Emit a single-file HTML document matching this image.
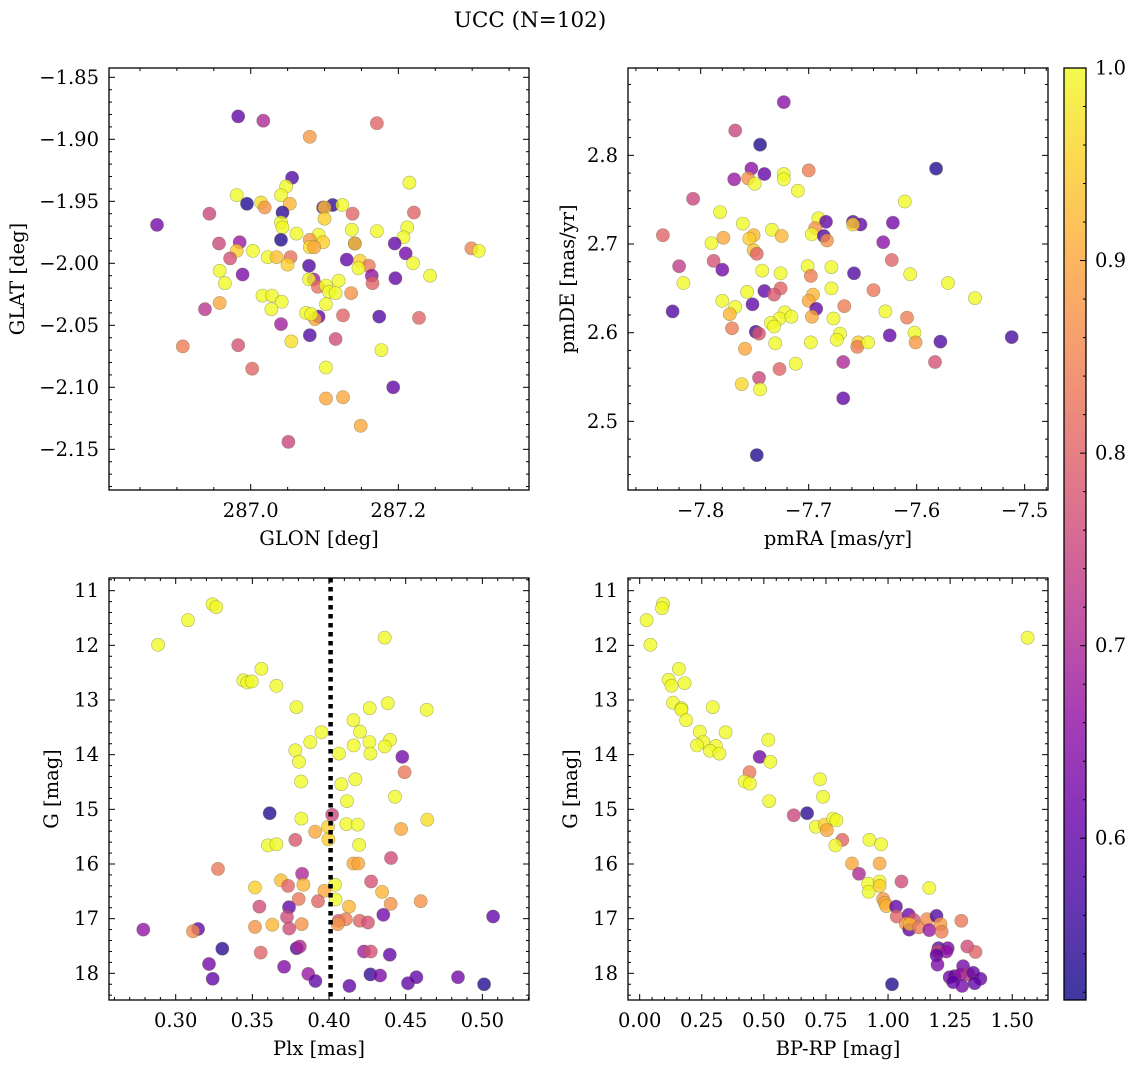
<!DOCTYPE html>
<html><head><meta charset="utf-8"><style>
html,body{margin:0;padding:0;background:#fff;}
svg{display:block;font-family:"DejaVu Serif","Liberation Serif",serif;}
</style></head><body>
<svg id="fig" width="1136" height="1067" viewBox="0 0 1136 1067" xmlns="http://www.w3.org/2000/svg">
<defs>
<linearGradient id="plasma" x1="0" y1="1" x2="0" y2="0">
<stop offset="0" stop-color="#0d0887"/><stop offset="0.1" stop-color="#41049d"/><stop offset="0.2" stop-color="#6a00a8"/><stop offset="0.3" stop-color="#8f0da4"/><stop offset="0.4" stop-color="#b12a90"/><stop offset="0.5" stop-color="#cc4778"/><stop offset="0.6" stop-color="#e16462"/><stop offset="0.7" stop-color="#f2844b"/><stop offset="0.8" stop-color="#fca636"/><stop offset="0.9" stop-color="#fcce25"/><stop offset="1" stop-color="#f0f921"/>
</linearGradient>
</defs>
<text x="530" y="27" font-size="21.5" text-anchor="middle">UCC (N=102)</text>
</svg>
<script>
// ---- Panel 1: GLON / GLAT ----
const p1Glon=[286.983,287.017,287.171,287.080,287.056,287.215,287.048,286.981,287.041,286.995,287.014,287.019,287.053,287.043,287.098,287.111,287.100,287.124,287.100,287.138,287.221,286.944,286.873,287.041,287.043,287.137,287.171,287.212,287.207,287.062,287.092,287.080,287.098,287.041,287.141,287.141,287.195,286.957,286.985,286.981,287.003,287.080,287.086,287.210,287.299,287.309,286.972,287.023,287.035,287.054,287.050,287.130,287.148,287.160,287.146,287.079,287.220,286.958,286.989,286.965,287.085,287.079,287.091,287.102,287.119,287.106,287.115,287.164,287.165,287.196,287.243,287.136,287.016,287.029,287.042,287.028,286.958,286.938,287.102,287.075,287.092,287.087,287.082,287.125,287.174,287.228,287.041,287.080,287.115,287.055,287.177,286.908,286.983,287.002,287.102,287.193,287.102,287.125,287.149,287.051];
const p1Glat=[-1.8815,-1.885,-1.887,-1.898,-1.931,-1.935,-1.938,-1.945,-1.945,-1.952,-1.951,-1.955,-1.952,-1.959,-1.955,-1.953,-1.955,-1.953,-1.964,-1.960,-1.959,-1.960,-1.969,-1.967,-1.971,-1.973,-1.974,-1.971,-1.979,-1.976,-1.977,-1.981,-1.983,-1.981,-1.984,-1.984,-1.984,-1.984,-1.983,-1.990,-1.990,-1.987,-1.987,-1.992,-1.988,-1.990,-1.996,-1.995,-1.995,-1.995,-2.001,-1.997,-1.998,-2.002,-2.004,-2.002,-2.000,-2.006,-2.009,-2.016,-2.013,-2.013,-2.019,-2.018,-2.014,-2.023,-2.024,-2.010,-2.016,-2.012,-2.010,-2.024,-2.026,-2.026,-2.031,-2.037,-2.032,-2.037,-2.033,-2.040,-2.043,-2.045,-2.041,-2.042,-2.043,-2.044,-2.049,-2.058,-2.061,-2.063,-2.070,-2.067,-2.066,-2.085,-2.084,-2.100,-2.109,-2.108,-2.131,-2.144];
const p1Prob=[0.6,0.7,0.8,0.88,0.58,1,1,1,1,0.53,0.97,0.87,0.92,0.54,0.6,0.55,0.93,1,0.95,0.8,0.8,0.75,0.62,1,1,1,1,1,1,1,1,0.88,0.95,0.53,0.6,0.95,0.6,0.75,0.67,0.95,1,0.97,0.9,0.62,0.85,1,0.77,1,0.93,0.82,0.95,0.6,0.95,0.83,1,0.58,1,1,0.63,1,0.68,1,0.82,1,1,1,1,0.66,0.8,0.6,1,0.87,1,1,1,1,0.9,0.72,1,1,0.6,0.9,1,0.8,0.58,0.8,0.68,0.58,0.76,0.97,1,0.84,0.77,0.8,1,0.6,0.9,0.9,0.9,0.75];
// ---- Panel 2: pmRA / pmDE ----
const p2Pmra=[-7.723,-7.768,-7.745,-7.582,-7.753,-7.741,-7.769,-7.756,-7.750,-7.723,-7.723,-7.700,-7.710,-7.611,-7.807,-7.782,-7.835,-7.790,-7.779,-7.761,-7.751,-7.755,-7.734,-7.725,-7.751,-7.748,-7.691,-7.684,-7.694,-7.697,-7.686,-7.683,-7.659,-7.652,-7.659,-7.622,-7.631,-7.623,-7.820,-7.788,-7.780,-7.816,-7.743,-7.726,-7.701,-7.698,-7.679,-7.658,-7.606,-7.571,-7.546,-7.640,-7.757,-7.741,-7.726,-7.732,-7.679,-7.696,-7.700,-7.693,-7.780,-7.768,-7.773,-7.752,-7.722,-7.727,-7.716,-7.735,-7.732,-7.697,-7.677,-7.667,-7.629,-7.609,-7.826,-7.771,-7.749,-7.746,-7.671,-7.674,-7.654,-7.655,-7.645,-7.625,-7.602,-7.601,-7.578,-7.512,-7.759,-7.731,-7.698,-7.668,-7.583,-7.727,-7.712,-7.762,-7.746,-7.745,-7.668,-7.748];
const p2Pmde=[2.860,2.828,2.812,2.785,2.785,2.779,2.773,2.774,2.768,2.779,2.773,2.783,2.760,2.748,2.751,2.736,2.710,2.701,2.707,2.723,2.710,2.706,2.716,2.709,2.693,2.689,2.729,2.725,2.718,2.711,2.709,2.704,2.725,2.722,2.722,2.724,2.702,2.682,2.675,2.681,2.671,2.656,2.670,2.667,2.675,2.664,2.674,2.667,2.666,2.656,2.639,2.648,2.646,2.647,2.650,2.643,2.650,2.643,2.636,2.627,2.636,2.629,2.621,2.632,2.623,2.616,2.618,2.611,2.607,2.618,2.616,2.630,2.624,2.617,2.624,2.605,2.601,2.599,2.599,2.592,2.589,2.584,2.589,2.597,2.600,2.589,2.590,2.595,2.582,2.588,2.589,2.567,2.567,2.559,2.565,2.542,2.549,2.536,2.526,2.462];
const p2Prob=[0.65,0.75,0.53,0.53,0.65,0.6,0.67,0.87,1,1,1,0.84,1,1,0.75,1,0.8,1,0.9,1,0.92,0.95,1,0.92,0.93,0.8,1,0.6,0.87,1,0.58,0.87,0.58,0.6,0.95,0.62,0.65,0.8,0.73,0.77,0.62,1,1,1,1,0.84,1,0.58,1,1,1,0.83,1,0.6,0.8,0.78,1,0.92,0.9,0.6,1,1,0.92,0.6,1,1,1,1,1,0.9,1,0.84,1,0.84,0.58,0.84,0.57,0.78,1,1,0.95,0.84,1,0.6,1,0.88,0.58,0.57,0.9,1,1,0.7,0.77,0.8,1,0.96,0.75,1,0.6,0.53];
// ---- Panel 3: Plx / G ----
const p3Plx=[0.324,0.3265,0.308,0.2885,0.4363,0.3559,0.3441,0.3467,0.3496,0.3657,0.3787,0.4265,0.4383,0.4637,0.4159,0.4202,0.395,0.3878,0.4263,0.4398,0.4161,0.4363,0.427,0.4065,0.378,0.3804,0.4478,0.4493,0.3817,0.408,0.4172,0.4117,0.443,0.3613,0.402,0.382,0.4113,0.4187,0.3993,0.4641,0.3909,0.447,0.3996,0.378,0.3602,0.3657,0.4196,0.4404,0.4159,0.4191,0.3276,0.3824,0.3687,0.3733,0.3833,0.4039,0.4274,0.3517,0.397,0.4346,0.4043,0.3802,0.3928,0.4402,0.4598,0.3546,0.3739,0.413,0.3726,0.4354,0.507,0.4063,0.411,0.42,0.4254,0.4057,0.3822,0.363,0.3517,0.374,0.2789,0.3146,0.3113,0.3304,0.3554,0.3789,0.3809,0.4228,0.4272,0.4396,0.3217,0.3707,0.3865,0.3911,0.3241,0.427,0.4333,0.4133,0.4515,0.457,0.4841,0.5011];
const p3G=[11.25,11.30,11.54,11.99,11.86,12.43,12.64,12.68,12.66,12.74,13.13,13.15,13.06,13.18,13.37,13.58,13.59,13.77,13.77,13.73,13.83,13.85,13.98,13.98,13.92,14.13,14.04,14.32,14.49,14.54,14.45,14.85,14.77,15.07,15.10,15.17,15.27,15.28,15.32,15.19,15.41,15.36,15.55,15.56,15.66,15.64,15.65,15.89,15.99,15.99,16.09,16.18,16.30,16.40,16.38,16.38,16.32,16.43,16.49,16.51,16.65,16.64,16.68,16.73,16.68,16.78,16.79,16.78,16.97,16.93,16.96,17.04,17.01,17.04,17.07,17.10,17.10,17.11,17.15,17.18,17.20,17.19,17.23,17.55,17.62,17.54,17.51,17.60,17.60,17.66,17.83,17.88,18.01,18.14,18.10,18.02,18.04,18.23,18.18,18.07,18.07,18.20];
const p3Prob=[1,1,1,1,1,1,1,1,1,1,1,1,1,1,1,1,1,1,1,1,1,1,1,1,1,1,0.62,0.83,1,1,1,1,1,0.53,0.75,1,1,1,0.95,0.97,0.9,0.9,0.95,0.78,1,1,1,0.76,0.9,0.9,0.83,0.7,0.93,0.8,0.92,1,0.77,0.95,0.9,0.92,1,0.83,0.8,0.87,0.87,0.76,0.6,0.92,0.76,0.62,0.6,0.78,0.84,0.8,0.77,0.88,0.87,0.92,0.87,0.76,0.66,0.6,0.86,0.54,0.8,0.58,0.7,0.68,0.77,0.6,0.62,0.64,0.67,0.6,0.6,0.55,0.63,0.6,0.6,0.6,0.62,0.53];
const plxMedian=0.401;
// ---- Panel 4: BP-RP / G ----
const p4Bprp=[0.094,0.09,0.028,0.043,1.562,0.158,0.117,0.128,0.181,0.134,0.168,0.168,0.294,0.187,0.242,0.346,0.256,0.231,0.307,0.283,0.321,0.518,0.483,0.526,0.442,0.423,0.444,0.521,0.726,0.738,0.62,0.674,0.709,0.745,0.779,0.792,0.754,0.816,0.788,0.925,0.972,0.855,0.966,0.883,1.054,1.166,0.92,0.966,0.922,0.966,0.98,0.987,0.993,1.032,1.035,1.083,1.103,1.071,1.085,1.087,1.124,1.157,1.166,1.195,1.211,1.216,1.295,1.203,1.24,1.199,1.235,1.195,1.319,1.352,1.199,1.302,1.248,1.268,1.293,1.325,1.343,1.372,1.262,1.298,1.349,1.016];
const p4G=[11.24,11.32,11.54,11.99,11.86,12.43,12.63,12.74,12.69,13.05,13.15,13.18,13.13,13.37,13.58,13.59,13.77,13.83,13.84,13.93,13.98,13.73,14.04,14.13,14.32,14.49,14.53,14.85,14.45,14.77,15.11,15.07,15.32,15.28,15.17,15.20,15.38,15.56,15.66,15.56,15.64,15.99,15.99,16.18,16.32,16.44,16.36,16.32,16.51,16.40,16.64,16.71,16.77,16.78,16.96,16.93,17.02,17.09,17.20,17.10,17.16,17.01,17.21,16.95,17.10,17.24,17.04,17.54,17.54,17.60,17.60,17.67,17.51,17.61,17.84,17.87,18.07,18.05,18.02,18.02,17.99,18.10,18.16,18.23,18.18,18.20];
const p4Prob=[1,1,1,1,1,1,1,1,1,1,1,1,1,1,1,1,1,1,1,1,1,1,0.62,1,0.83,1,1,1,1,1,0.75,0.54,1,0.95,1,1,0.9,0.8,1,1,1,0.9,0.9,0.7,0.76,1,1,1,1,0.95,0.88,0.9,0.92,0.6,0.8,0.62,0.77,0.87,0.6,0.92,0.84,0.86,0.67,0.58,0.88,0.84,0.83,0.58,0.62,0.75,0.66,0.6,0.76,0.8,0.63,0.62,0.62,0.6,0.66,0.72,0.6,0.6,0.6,0.62,0.6,0.53];
// ---- Colorbar ----
const cbMin=0.516, cbMax=1.0;
const cbTicks=[0.6,0.7,0.8,0.9,1.0];

const NS="http://www.w3.org/2000/svg";
const svg=document.getElementById('fig');
const FS=19.5;
const plasma=[[13,8,135],[65,4,157],[106,0,168],[143,13,164],[177,42,144],[204,71,120],[225,100,98],[242,132,75],[252,166,54],[252,206,37],[240,249,33]];
function cmap(v){let t=(v-cbMin)/(cbMax-cbMin);t=Math.max(0,Math.min(1,t))*10;const i=Math.min(9,Math.floor(t)),f=t-i;const a=plasma[i],b=plasma[i+1];return 'rgb('+[0,1,2].map(k=>Math.round(a[k]+(b[k]-a[k])*f)).join(',')+')';}
function mk(tag,attrs,parent){const e=document.createElementNS(NS,tag);for(const k in attrs)e.setAttribute(k,attrs[k]);(parent||svg).appendChild(e);return e;}
function fmt(v,d){const s=Math.abs(v).toFixed(d);return (v<-1e-9?'\u2212':'')+s;}

function panel(o){
  const g=mk('g',{});
  
  
  const sx=v=>o.L+(v-o.x0)/(o.x1-o.x0)*(o.R-o.L);
  const sy=v=>o.T+(v-o.y0)/(o.y1-o.y0)*(o.B-o.T);
  const pts=mk('g',{},g);
  
  
  for(let i=0;i<o.xs.length;i++){
    const c=mk('circle',{cx:sx(o.xs[i]).toFixed(1),cy:sy(o.ys[i]).toFixed(1),r:6.6,fill:cmap(o.cs[i]),'fill-opacity':0.78,stroke:'#6b6b3a','stroke-opacity':0.5,'stroke-width':0.6},pts);
    
    
  }
  if(o.vline!==undefined){
    const l=mk('line',{x1:sx(o.vline),x2:sx(o.vline),y1:o.T,y2:o.B,stroke:'#000','stroke-width':4.5,'stroke-dasharray':'4.5 4.5'},g);
    
    
  }
  const fr=mk('rect',{x:o.L,y:o.T,width:o.R-o.L,height:o.B-o.T,fill:'none',stroke:'#000','stroke-width':1.3},g);
  
  
  const tk=mk('g',{stroke:'#000','stroke-width':1},g);
  
  
  const xlo=Math.min(o.x0,o.x1),xhi=Math.max(o.x0,o.x1),ylo=Math.min(o.y0,o.y1),yhi=Math.max(o.y0,o.y1);
  for(let v=Math.ceil(xlo/o.xmin-1e-6)*o.xmin;v<=xhi;v+=o.xmin){
    const isMaj=Math.abs(v/o.xmaj-Math.round(v/o.xmaj))<1e-4;const len=isMaj?6:3;const x=sx(v);
    mk('line',{x1:x,x2:x,y1:o.B,y2:o.B-len},tk);mk('line',{x1:x,x2:x,y1:o.T,y2:o.T+len},tk);
  }
  for(let v=Math.ceil(ylo/o.ymin-1e-6)*o.ymin;v<=yhi;v+=o.ymin){
    const isMaj=Math.abs(v/o.ymaj-Math.round(v/o.ymaj))<1e-4;const len=isMaj?6:3;const y=sy(v);
    mk('line',{x1:o.L,x2:o.L+len,y1:y,y2:y},tk);mk('line',{x1:o.R,x2:o.R-len,y1:y,y2:y},tk);
  }
  o.xt.forEach(v=>{const t=mk('text',{x:sx(v),y:o.B+27,'font-size':FS,'text-anchor':'middle'},g);t.textContent=fmt(v,o.xd);
    
    });
  o.yt.forEach(v=>{const t=mk('text',{x:o.L-10,y:sy(v)+6.5,'font-size':FS,'text-anchor':'end'},g);t.textContent=fmt(v,o.yd);
    
    });
  const xl=mk('text',{x:(o.L+o.R)/2,y:o.B+55,'font-size':FS,'text-anchor':'middle'},g);xl.textContent=o.xlab;
  
  
  const yx=o.ylabX,yy=(o.T+o.B)/2;
  const yl=mk('text',{x:yx,y:yy,'font-size':FS,'text-anchor':'middle',transform:'rotate(-90 '+yx+' '+yy+')'},g);yl.textContent=o.ylab;
  
  
}

panel({name:'glon-glat-panel',L:109,R:529,T:68,B:490,x0:286.808,x1:287.377,y0:-1.8425,y1:-2.1828,xs:p1Glon,ys:p1Glat,cs:p1Prob,xmaj:0.2,xmin:0.05,ymaj:0.05,ymin:0.01,xt:[287.0,287.2],xd:1,yt:[-1.85,-1.90,-1.95,-2.00,-2.05,-2.10,-2.15],yd:2,xlab:'GLON [deg]',ylab:'GLAT [deg]',ylabX:24});
panel({name:'pm-panel',L:628,R:1048,T:68,B:490,x0:-7.8673,x1:-7.4784,y0:2.8985,y1:2.4226,xs:p2Pmra,ys:p2Pmde,cs:p2Prob,xmaj:0.1,xmin:0.02,ymaj:0.1,ymin:0.02,xt:[-7.8,-7.7,-7.6,-7.5],xd:1,yt:[2.5,2.6,2.7,2.8],yd:1,xlab:'pmRA [mas/yr]',ylab:'pmDE [mas/yr]',ylabX:574});
panel({name:'plx-g-panel',L:109,R:529,T:578,B:1000,x0:0.2565,x1:0.5304,y0:10.768,y1:18.488,xs:p3Plx,ys:p3G,cs:p3Prob,xmaj:0.05,xmin:0.01,ymaj:1,ymin:0.2,xt:[0.30,0.35,0.40,0.45,0.50],xd:2,yt:[11,12,13,14,15,16,17,18],yd:0,xlab:'Plx [mas]',ylab:'G [mag]',ylabX:58,vline:plxMedian});
panel({name:'cmd-panel',L:628,R:1048,T:578,B:1000,x0:-0.047,x1:1.644,y0:10.768,y1:18.488,xs:p4Bprp,ys:p4G,cs:p4Prob,xmaj:0.25,xmin:0.05,ymaj:1,ymin:0.2,xt:[0,0.25,0.5,0.75,1.0,1.25,1.5],xd:2,yt:[11,12,13,14,15,16,17,18],yd:0,xlab:'BP-RP [mag]',ylab:'G [mag]',ylabX:577});

(function(){
  const L=1064,R=1086,T=68,B=1000;
  const g=mk('g',{});
  
  
  mk('rect',{x:L,y:T,width:R-L,height:B-T,fill:'url(#plasma)','fill-opacity':0.8},g);
  mk('rect',{x:L,y:T,width:R-L,height:B-T,fill:'none',stroke:'#000','stroke-width':1.3},g);
  const sy=v=>B-(v-cbMin)/(cbMax-cbMin)*(B-T);
  for(let v=0.52;v<=1.0001;v+=0.02){const maj=Math.abs(v*10-Math.round(v*10))<1e-4;mk('line',{x1:R,x2:R-(maj?6:3),y1:sy(v),y2:sy(v),stroke:'#000','stroke-width':1},g);}
  cbTicks.forEach(v=>{const t=mk('text',{x:R+9,y:sy(v)+6.5,'font-size':FS},g);t.textContent=v.toFixed(1);
    
    });
})();
</script>
</body></html>
